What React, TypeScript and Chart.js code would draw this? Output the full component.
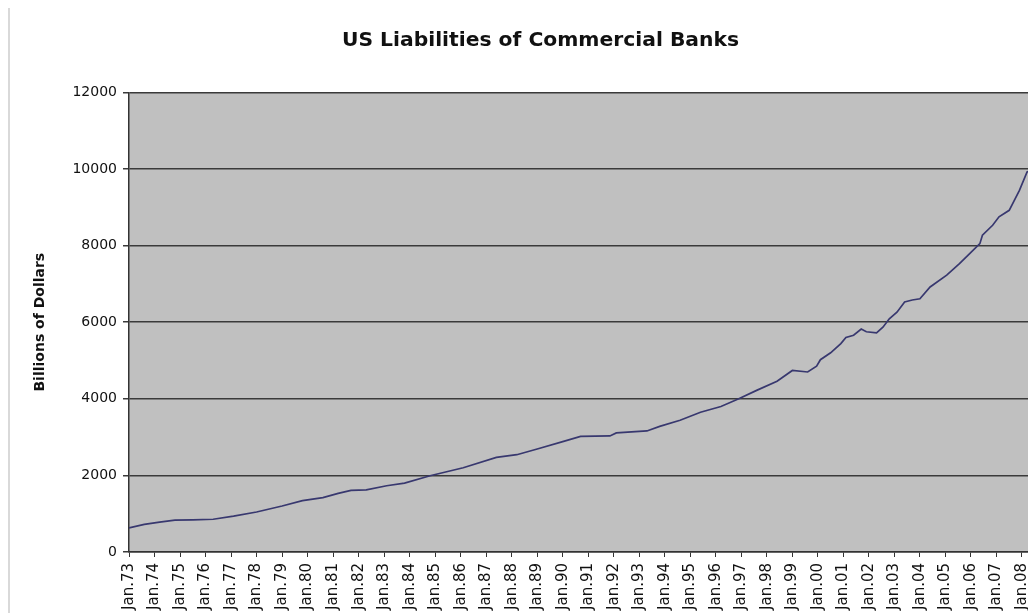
import React, { useEffect, useRef } from 'react';
import { Chart, registerables } from 'chart.js';

Chart.register(...registerables);

// ---- Data ----
const chartTitle = 'US Liabilities of Commercial Banks';
const yAxisTitle = 'Billions of Dollars';

// Time positions (fractional years) of the sampled points
const years = [
  1973.0, 1973.6, 1974.2, 1974.8, 1975.5, 1976.3, 1977.1, 1978.0, 1979.0, 1979.8,
  1980.6, 1981.2, 1981.7, 1982.3, 1983.1, 1983.8, 1984.8, 1986.1, 1987.4, 1988.2,
  1989.0, 1990.0, 1990.7, 1991.85, 1992.1, 1993.3, 1993.8, 1994.6, 1995.4, 1996.2,
  1996.9, 1997.6, 1998.4, 1999.0, 1999.6, 1999.95, 2000.1, 2000.5, 2000.9, 2001.1,
  2001.4, 2001.7, 2001.9, 2002.3, 2002.55, 2002.8, 2003.1, 2003.4, 2003.7, 2004.0,
  2004.4, 2005.05, 2005.55, 2005.95, 2006.35, 2006.45, 2006.85, 2007.1, 2007.5, 2007.9,
  2008.2, 2008.4, 2008.55,
];

// Liabilities, billions of dollars
const liabilities = [
  630, 720, 780, 830, 840, 855, 935, 1045, 1200, 1340,
  1420, 1530, 1610, 1620, 1730, 1800, 1990, 2200, 2470, 2540,
  2690, 2880, 3020, 3030, 3110, 3160, 3280, 3440, 3650, 3800,
  4000, 4220, 4460, 4740, 4700, 4850, 5020, 5200, 5440, 5600,
  5660, 5820, 5750, 5720, 5870, 6090, 6260, 6530, 6580, 6610,
  6920, 7230, 7530, 7790, 8050, 8270, 8530, 8750, 8920, 9440,
  9920, 9970, 9880,
];

// Axis ranges / ticks
const xFirstYear = 1973;
const xLastYear = 2010;
const yMin = 0;
const yMax = 12000;
const yStep = 2000;

const yearLabel = (v: number) => 'Jan.' + String(Math.round(v) % 100).padStart(2, '0');

const plotBackground = {
  id: 'plotBackground',
  beforeDraw(chart: any) {
    const { ctx, chartArea } = chart;
    if (!chartArea) return;
    ctx.save();
    ctx.fillStyle = '#c0c0c0';
    ctx.fillRect(chartArea.left, chartArea.top, chartArea.right - chartArea.left, chartArea.bottom - chartArea.top);
    ctx.restore();
  },
};

export default function App() {
  const canvasRef = useRef<HTMLCanvasElement | null>(null);

  useEffect(() => {
    if (!canvasRef.current) return;
    const points = years.map((x, i) => ({ x, y: liabilities[i] }));
    const chart = new Chart(canvasRef.current, {
      type: 'line',
      data: {
        datasets: [
          {
            label: 'Liabilities',
            data: points,
            borderColor: '#38386f',
            borderWidth: 1.7,
            pointRadius: 0,
            tension: 0,
            fill: false,
          },
        ],
      },
      options: {
        animation: false,
        responsive: false,
        devicePixelRatio: 1,
        layout: { padding: { left: 0, right: 5, top: 0, bottom: 0 } },
        plugins: {
          legend: { display: false },
          tooltip: { enabled: false },
          title: {
            display: true,
            text: chartTitle,
            color: '#111',
            font: { family: 'DejaVu Sans', size: 20.3, weight: 'bold' },
            padding: { top: 21, bottom: 39 },
          },
        },
        scales: {
          x: {
            type: 'linear',
            min: xFirstYear,
            max: xLastYear,
            afterFit(scale: any) {
              scale.height = 116;
              scale.paddingLeft = 0;
              scale.paddingRight = 0;
            },
            grid: {
              drawOnChartArea: false,
              drawTicks: true,
              tickLength: 5,
              color: '#333',
              lineWidth: 1,
            },
            border: { display: true, color: '#333', width: 1.5 },
            ticks: {
              stepSize: 1,
              autoSkip: false,
              minRotation: 90,
              maxRotation: 90,
              padding: 6,
              color: '#111',
              font: { family: 'DejaVu Sans', size: 15 },
              callback: (v: any) => yearLabel(Number(v)),
            },
          },
          y: {
            min: yMin,
            max: yMax,
            afterFit(scale: any) {
              scale.width = 121;
              scale.paddingTop = 0;
              scale.paddingBottom = 0;
            },
            grid: {
              drawOnChartArea: true,
              drawTicks: true,
              tickLength: 6,
              color: '#3a3a3a',
              lineWidth: 1.5,
            },
            border: { display: true, color: '#333', width: 1.5 },
            ticks: {
              stepSize: yStep,
              padding: 6,
              color: '#111',
              font: { family: 'DejaVu Sans', size: 14 },
              callback: (v: any) => String(v),
            },
            title: {
              display: true,
              text: yAxisTitle,
              color: '#111',
              font: { family: 'DejaVu Sans', size: 14, weight: 'bold' },
              padding: { top: 24, bottom: 0 },
            },
          },
        },
      },
      plugins: [plotBackground],
    });
    return () => chart.destroy();
  }, []);

  return (
    <div style={{ position: 'relative', width: 1028, height: 605, overflow: 'hidden', background: '#fff' }}>
      <canvas ref={canvasRef} width={1070} height={660} style={{ position: 'absolute', left: 0, top: 0 }} />
      <div style={{ position: 'absolute', left: 0, top: 0, width: 2, height: '100%', background: '#d9d9d9' }} />
    </div>
  );
}
